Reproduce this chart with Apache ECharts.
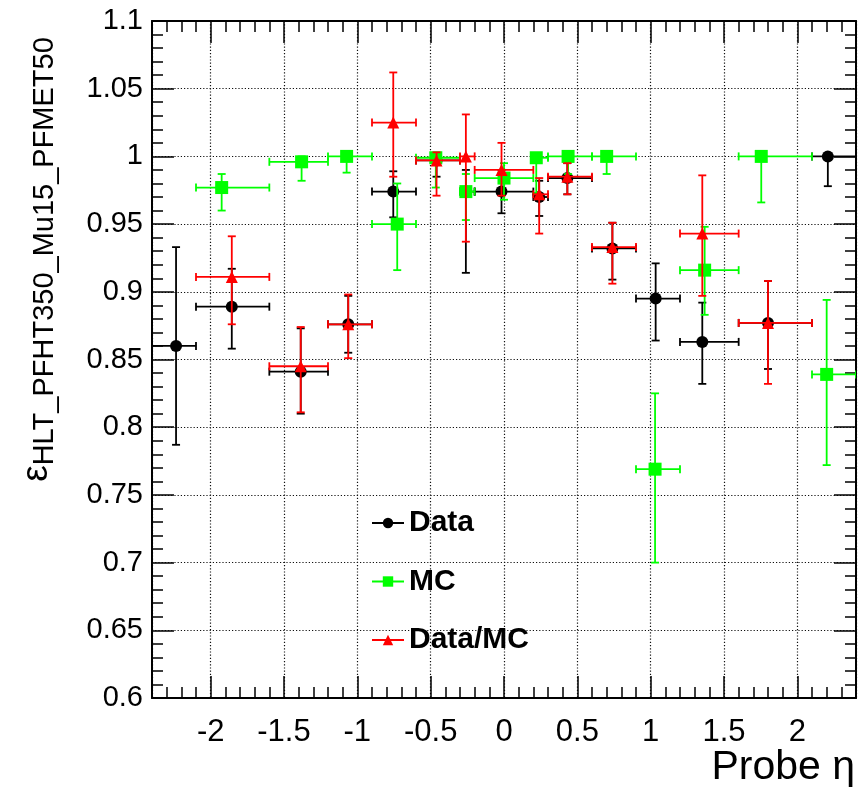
<!DOCTYPE html>
<html>
<head>
<meta charset="utf-8">
<script src="https://cdn.jsdelivr.net/npm/echarts@6/dist/echarts.min.js"></script>
<style>
  html, body { margin: 0; padding: 0; background: #fff; }
  #chart { width: 867px; height: 797px; }
</style>
</head>
<body>
<div id="chart"></div>
<script>
// Probe eta binning (bin edges, 15 bins)
const binEdges = [-2.4, -2.1, -1.6, -1.2, -0.9, -0.6, -0.3, -0.2, 0.2, 0.3, 0.6, 0.9, 1.2, 1.6, 2.1, 2.4];

// Data: efficiency per bin, with lower / upper error bounds
const dataEta = [-2.236, -1.856, -1.386, -1.062, -0.755, -0.46, -0.26, -0.017, 0.24, 0.432, 0.739, 1.034, 1.352, 1.80, 2.208];
const dataEff = [0.860, 0.889, 0.841, 0.876, 0.974, 0.997, 0.974, 0.974, 0.970, 0.984, 0.932, 0.895, 0.863, 0.877, 1.000];
const dataLo  = [0.787, 0.858, 0.810, 0.855, 0.955, 0.985, 0.914, 0.958, 0.956, 0.972, 0.909, 0.864, 0.832, 0.843, 0.978];
const dataHi  = [0.933, 0.917, 0.873, 0.897, 0.989, 1.000, 0.990, 0.990, 0.982, 0.995, 0.951, 0.921, 0.892, 0.908, 1.000];

// MC: efficiency per bin (no entry in the first bin)
const mcEta = [null, -1.925, -1.38, -1.073, -0.728, -0.465, -0.26, 0.0, 0.22, 0.437, 0.70, 1.03, 1.368, 1.754, 2.20];
const mcEff = [null, 0.977, 0.996, 1.000, 0.950, 0.999, 0.974, 0.984, 0.999, 1.000, 1.000, 0.769, 0.916, 1.000, 0.839];
const mcLo  = [null, 0.960, 0.982, 0.988, 0.916, 0.977, 0.953, 0.968, 0.973, 0.987, 0.987, 0.700, 0.883, 0.966, 0.772];
const mcHi  = [null, 0.987, 1.000, 1.000, 0.980, 1.000, 0.987, 0.995, 1.000, 1.000, 1.000, 0.825, 0.948, 1.000, 0.894];

// Data/MC scale factor per bin (bins outside the plotted range are left empty)
const ratioEta = [null, -1.856, -1.386, -1.062, -0.755, -0.46, -0.26, -0.017, 0.24, 0.432, 0.739, null, 1.352, 1.80, null];
const ratioEff = [null, 0.911, 0.845, 0.876, 1.025, 0.997, 1.000, 0.990, 0.972, 0.985, 0.933, null, 0.943, 0.877, null];
const ratioLo  = [null, 0.876, 0.811, 0.851, 0.985, 0.971, 0.937, 0.971, 0.943, 0.972, 0.906, null, 0.897, 0.832, null];
const ratioHi  = [null, 0.941, 0.874, 0.898, 1.062, 1.003, 1.031, 1.010, 0.984, 0.995, 0.951, null, 0.986, 0.908, null];

// Axis tick labels
const xTickLabels = ['-2', '-1.5', '-1', '-0.5', '0', '0.5', '1', '1.5', '2'];
const yTickLabels = ['0.6', '0.65', '0.7', '0.75', '0.8', '0.85', '0.9', '0.95', '1', '1.05', '1.1'];

function rows(eta, eff, lo, hi) {
  const out = [];
  for (let i = 0; i < eff.length; i++) {
    if (eff[i] == null) continue;
    out.push([eta[i], eff[i], binEdges[i], binEdges[i + 1], lo[i], hi[i]]);
  }
  return out;
}

const dataRows = rows(dataEta, dataEff, dataLo, dataHi);
const mcRows = rows(mcEta, mcEff, mcLo, mcHi);
const ratioRows = rows(ratioEta, ratioEff, ratioLo, ratioHi);

// Error bars with end caps, drawn through the axis scales
function errorBars(color) {
  return function (params, api) {
    const x = api.value(0), y = api.value(1);
    const ylo = api.value(4), yhi = api.value(5);
    const c = api.coord([x, y]);
    const l = api.coord([api.value(2), y]);
    const r = api.coord([api.value(3), y]);
    const b = api.coord([x, ylo]);
    const t = api.coord([x, yhi]);
    const cap = 4;
    const style = { stroke: color, lineWidth: 1.8, fill: null };
    const children = [];
    const seg = (x1, y1, x2, y2) => children.push({ type: 'line', shape: { x1, y1, x2, y2 }, style });
    seg(l[0], c[1], r[0], c[1]);
    seg(l[0], c[1] - cap, l[0], c[1] + cap);
    seg(r[0], c[1] - cap, r[0], c[1] + cap);
    if (ylo < y) {
      seg(c[0], c[1], c[0], b[1]);
      seg(c[0] - cap, b[1], c[0] + cap, b[1]);
    }
    if (yhi > y) {
      seg(c[0], c[1], c[0], t[1]);
      seg(c[0] - cap, t[1], c[0] + cap, t[1]);
    }
    return { type: 'group', children };
  };
}

const axisLineStyle = { color: '#000', width: 2 };
const tickStyle = { color: '#000', width: 1.5 };
const gridDots = { color: '#111', width: 1.2, type: [1.2, 2] };
const labelFont = { fontFamily: 'Liberation Sans, Arial, sans-serif', color: '#000' };

function xAxisCfg(pos, main) {
  return {
    type: 'value', position: pos, min: -2.4, max: 2.4, splitNumber: 10,
    axisLine: { show: true, onZero: false, lineStyle: axisLineStyle },
    axisTick: { show: true, inside: true, length: 22, lineStyle: tickStyle },
    minorTick: { show: true, splitNumber: 5, length: 11, lineStyle: tickStyle },
    splitLine: { show: main, lineStyle: gridDots },
    axisLabel: main ? Object.assign({
      show: true, fontSize: 31, margin: 19, showMinLabel: false, showMaxLabel: false,
      formatter: v => {
        const s = String(Math.round(v * 10) / 10);
        return xTickLabels.indexOf(s) >= 0 ? s : '';
      }
    }, labelFont) : { show: false }
  };
}

function yAxisCfg(pos, main) {
  return {
    type: 'value', position: pos, min: 0.6, max: 1.1, interval: 0.05,
    axisLine: { show: true, onZero: false, lineStyle: axisLineStyle },
    axisTick: { show: true, inside: true, length: 22, lineStyle: tickStyle },
    minorTick: { show: true, splitNumber: 5, length: 11, lineStyle: tickStyle },
    splitLine: { show: main, lineStyle: gridDots },
    axisLabel: main ? Object.assign({
      show: true, fontSize: 29, margin: 9,
      formatter: v => yTickLabels[Math.round((v - 0.6) / 0.05)]
    }, labelFont) : { show: false }
  };
}

// Axis title sits under the right end of the x axis, right-aligned to the frame
const xMain = xAxisCfg('bottom', true);
xMain.name = 'Probe η';
xMain.nameLocation = 'end';
xMain.nameGap = -1;
xMain.nameMoveOverlap = false;
xMain.nameTextStyle = {
  fontFamily: 'Liberation Sans, Arial, sans-serif', fontSize: 41, color: '#000',
  align: 'right', verticalAlign: 'top', padding: [49, 0, 0, 0]
};

const yMain = yAxisCfg('left', true);
yMain.name = '{e|ε}{s|HLT_PFHT350_Mu15_PFMET50}';
yMain.nameLocation = 'middle';
yMain.nameGap = 93;
yMain.nameMoveOverlap = false;
yMain.nameTextStyle = {
  padding: [0, 0, 0, 200],
  rich: {
    e: { fontFamily: 'Liberation Sans, Arial, sans-serif', fontSize: 37, color: '#000' },
    s: { fontFamily: 'Liberation Sans, Arial, sans-serif', fontSize: 29, color: '#000', padding: [16, 0, 0, 0] }
  }
};

function markerSeries(name, rowsArr, color, symbol, size, z) {
  return {
    name, type: 'line', data: rowsArr.map(r => [r[0], r[1]]),
    symbol, symbolSize: size, showSymbol: true,
    lineStyle: { width: 0 },
    itemStyle: { color, borderWidth: 0 },
    z, silent: true, animation: false
  };
}

function barSeries(name, rowsArr, color, z) {
  return {
    name, type: 'custom', data: rowsArr, renderItem: errorBars(color),
    encode: { x: 0, y: 1 }, clip: true, z, silent: true, animation: false
  };
}

const chart = echarts.init(document.getElementById('chart'), null, { renderer: 'canvas' });
chart.setOption({
  backgroundColor: '#fff',
  animation: false,
  grid: { left: 152, right: 11, top: 21, bottom: 99, containLabel: false, outerBoundsMode: 'none' },
  xAxis: [xMain, xAxisCfg('top', false)],
  yAxis: [yMain, yAxisCfg('right', false)],
  legend: {
    orient: 'vertical', left: 371, top: 508, padding: 0,
    itemWidth: 32, itemHeight: 13, itemGap: 28.5,
    data: ['Data', 'MC', 'Data/MC'],
    lineStyle: { width: 2 },
    textStyle: { fontFamily: 'Liberation Sans, Arial, sans-serif', fontWeight: 'bold', fontSize: 30, color: '#000' },
    selectedMode: false
  },
  series: [
    barSeries('Data bars', dataRows, '#000000', 1),
    markerSeries('Data', dataRows, '#000000', 'circle', 12, 2),
    barSeries('MC bars', mcRows, '#00ff00', 3),
    markerSeries('MC', mcRows, '#00ff00', 'rect', 13, 4),
    barSeries('Data/MC bars', ratioRows, '#ff0000', 5),
    markerSeries('Data/MC', ratioRows, '#ff0000', 'triangle', 12, 6)
  ]
});
</script>
</body>
</html>
